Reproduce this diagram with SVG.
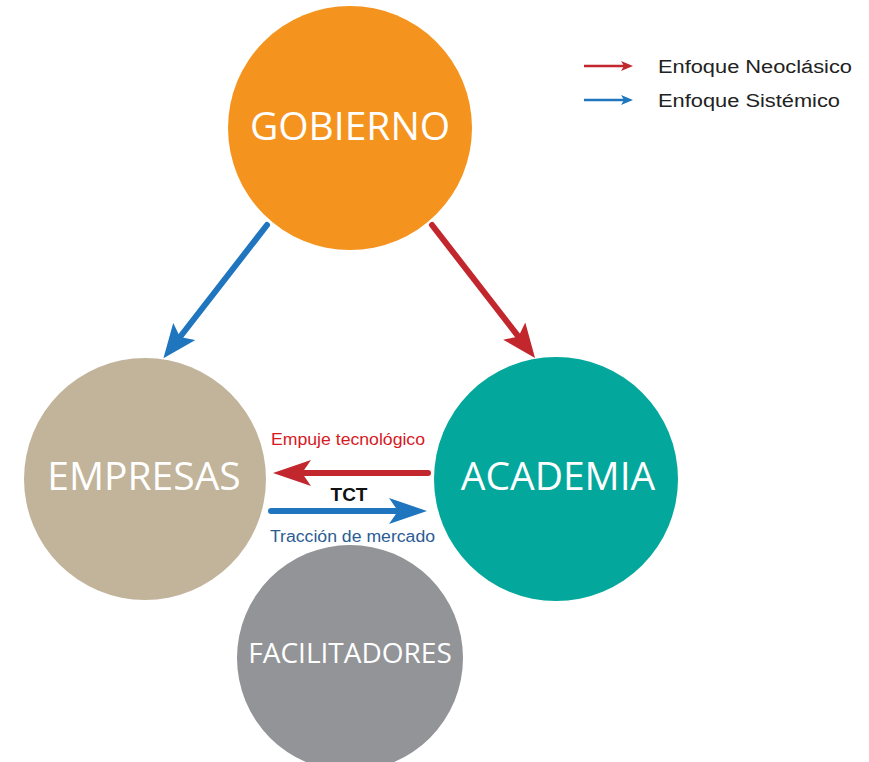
<svg xmlns="http://www.w3.org/2000/svg" width="869" height="762" viewBox="0 0 869 762">
<style>
.lbl{font-family:"Open Sans","Liberation Sans",sans-serif;fill:#ffffff;text-anchor:middle}
.leg{font-family:"Liberation Sans",Arial,sans-serif;font-size:18px;fill:#222222}
.small{font-family:"Liberation Sans",Arial,sans-serif;font-size:16px}
</style>
<defs>
<marker id="hbR" markerUnits="userSpaceOnUse" markerWidth="40" markerHeight="30" refX="7" refY="14" orient="auto"><path d="M0,0 L34,14 L0,28 L7,14 Z" fill="#C1272D"/></marker>
<marker id="hbB" markerUnits="userSpaceOnUse" markerWidth="40" markerHeight="30" refX="7" refY="14" orient="auto"><path d="M0,0 L34,14 L0,28 L7,14 Z" fill="#1F75BE"/></marker>
<marker id="hhR" markerUnits="userSpaceOnUse" markerWidth="40" markerHeight="28" refX="9" refY="13" orient="auto"><path d="M0,0 L38,13 L0,26 L9,13 Z" fill="#C1272D"/></marker>
<marker id="hhB" markerUnits="userSpaceOnUse" markerWidth="40" markerHeight="28" refX="9" refY="13" orient="auto"><path d="M0,0 L38,13 L0,26 L9,13 Z" fill="#1F75BE"/></marker>
<marker id="hsR" markerUnits="userSpaceOnUse" markerWidth="14" markerHeight="12" refX="3" refY="5" orient="auto"><path d="M0,0 L12,5 L0,10 L3,5 Z" fill="#C1272D"/></marker>
<marker id="hsB" markerUnits="userSpaceOnUse" markerWidth="14" markerHeight="12" refX="3" refY="5" orient="auto"><path d="M0,0 L12,5 L0,10 L3,5 Z" fill="#1F75BE"/></marker>
</defs>
<rect width="869" height="762" fill="#ffffff"/>
<g id="gobierno"><circle cx="350" cy="128" r="122" fill="#F5931F"/><text class="lbl" x="350" y="140" font-size="39">GOBIERNO</text></g>
<g id="empresas"><circle cx="145" cy="479" r="121" fill="#C1B49A"/><text class="lbl" x="144" y="490" font-size="39">EMPRESAS</text></g>
<g id="academia"><circle cx="556" cy="479" r="122" fill="#03A79B"/><text class="lbl" x="558" y="490" font-size="39">ACADEMIA</text></g>
<g id="facilitadores"><circle cx="350" cy="658" r="113" fill="#929497"/><text class="lbl" x="350" y="663" font-size="28" fill="#f2f2f2">FACILITADORES</text></g>
<g id="connectors" fill="none" stroke-linecap="round">
<line x1="267" y1="225" x2="180" y2="337" stroke="#1F75BE" stroke-width="6" marker-end="url(#hbB)"/>
<line x1="432" y1="225" x2="518.5" y2="336.6" stroke="#C1272D" stroke-width="6" marker-end="url(#hbR)"/>
<line x1="428" y1="473" x2="302" y2="473" stroke="#C1272D" stroke-width="6" marker-end="url(#hhR)"/>
<line x1="271" y1="511" x2="398" y2="511" stroke="#1F75BE" stroke-width="6" marker-end="url(#hhB)"/>
</g>
<g id="connector-labels">
<text class="small" x="271" y="445" fill="#D7191F" textLength="154" lengthAdjust="spacingAndGlyphs">Empuje tecnológico</text>
<text x="349" y="501" font-family="Liberation Sans,Arial,sans-serif" font-size="19" font-weight="bold" fill="#111111" text-anchor="middle">TCT</text>
<text class="small" x="270" y="542" fill="#2B5C94" textLength="165" lengthAdjust="spacingAndGlyphs">Tracción de mercado</text>
</g>
<g id="legend">
<line x1="584" y1="66" x2="624" y2="66" stroke="#C1272D" stroke-width="2.5" marker-end="url(#hsR)"/>
<line x1="584" y1="100" x2="624" y2="100" stroke="#1F75BE" stroke-width="2.5" marker-end="url(#hsB)"/>
<text class="leg" x="658" y="73" textLength="194" lengthAdjust="spacingAndGlyphs">Enfoque Neoclásico</text>
<text class="leg" x="658" y="107" textLength="182" lengthAdjust="spacingAndGlyphs">Enfoque Sistémico</text>
</g>
</svg>
